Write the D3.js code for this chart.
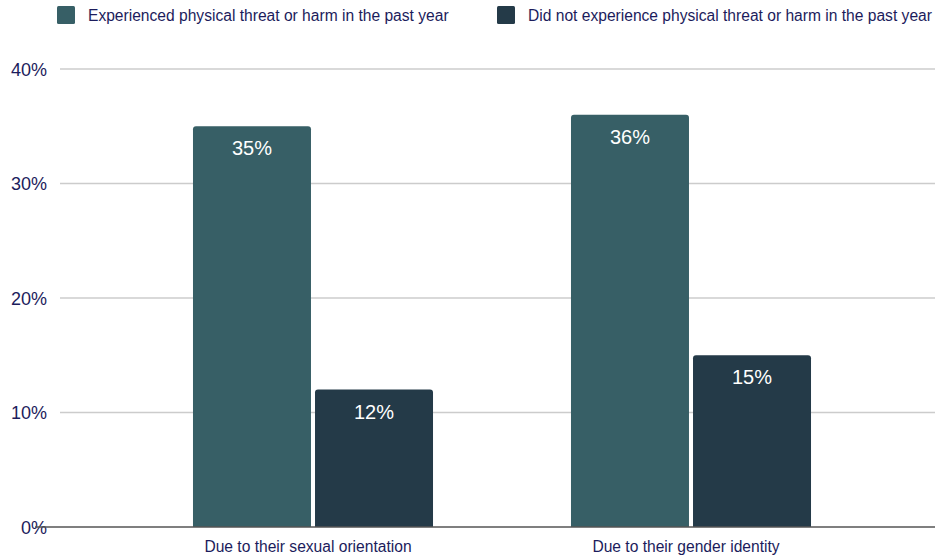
<!DOCTYPE html>
<html>
<head>
<meta charset="utf-8">
<script src="https://cdn.jsdelivr.net/npm/d3@7"></script>
<style>
  html, body { margin: 0; padding: 0; background: #fff; }
  svg { display: block; font-family: "Liberation Sans", Arial, sans-serif; }
</style>
</head>
<body>
<svg id="chart" width="935" height="556"></svg>
<script>
// Share of respondents reporting being threatened or harmed, by reason
const categories = ["Due to their sexual orientation", "Due to their gender identity"];
const seriesNames = [
  "Experienced physical threat or harm in the past year",
  "Did not experience physical threat or harm in the past year"
];
const experiencedValues = [35, 36];
const notExperiencedValues = [12, 15];
const yTicks = [0, 10, 20, 30, 40];
const seriesColors = ["#375f66", "#243a48"];

const textColor = "#1c1c5c";
const svg = d3.select("#chart");

const y = d3.scaleLinear().domain([0, 40]).range([527, 69]);
const x0 = d3.scaleBand().domain(categories).range([124, 880])
  .paddingInner(0.365).paddingOuter(0.1825);
const x1 = d3.scaleBand().domain(seriesNames).range([0, x0.bandwidth()])
  .paddingInner(0.033).paddingOuter(0);

const seriesValues = [experiencedValues, notExperiencedValues];

// Gridlines and y labels
const yAxis = d3.axisLeft(y).tickValues(yTicks).tickFormat(d => d + "%").tickSize(0).tickPadding(13);
const gy = svg.append("g").attr("transform", "translate(60,0)").call(yAxis);
gy.select(".domain").remove();
gy.selectAll("text").attr("fill", textColor).attr("font-size", 18).attr("dy", "0.35em");
svg.append("g").selectAll("line").data(yTicks.filter(t => t > 0)).join("line")
  .attr("x1", 60).attr("x2", 935)
  .attr("y1", d => y(d)).attr("y2", d => y(d))
  .attr("stroke", "#cccccc").attr("stroke-width", 1.5);

// Bars with slightly rounded top corners
function barPath(x, yTop, w, yBase, r) {
  return `M${x},${yBase}V${yTop + r}Q${x},${yTop} ${x + r},${yTop}H${x + w - r}Q${x + w},${yTop} ${x + w},${yTop + r}V${yBase}Z`;
}

const groups = svg.append("g").selectAll("g").data(categories).join("g")
  .attr("transform", d => `translate(${x0(d)},0)`);

groups.each(function(cat, ci) {
  const g = d3.select(this);
  seriesNames.forEach((s, si) => {
    const v = seriesValues[si][ci];
    g.append("path")
      .attr("d", barPath(x1(s), y(v), x1.bandwidth(), y(0), 3))
      .attr("fill", seriesColors[si]);
    g.append("text")
      .attr("x", x1(s) + x1.bandwidth() / 2)
      .attr("y", y(v) + 29)
      .attr("text-anchor", "middle")
      .attr("fill", "#ffffff")
      .attr("font-size", 20)
      .text(v + "%");
  });
});

// Baseline
svg.append("line").attr("x1", 35).attr("x2", 935)
  .attr("y1", y(0)).attr("y2", y(0))
  .attr("stroke", "#555555").attr("stroke-width", 1.5);

// Category labels
svg.append("g").selectAll("text").data(categories).join("text")
  .attr("x", d => x0(d) + x0.bandwidth() / 2 - 5)
  .attr("y", 552)
  .attr("text-anchor", "middle")
  .attr("fill", textColor)
  .attr("font-size", 15.6)
  .text(d => d);

// Legend
const legendX = [57, 497];
const legend = svg.append("g").selectAll("g").data(seriesNames).join("g")
  .attr("transform", (d, i) => `translate(${legendX[i]},6)`);
legend.append("rect").attr("width", 18).attr("height", 18).attr("rx", 1.5)
  .attr("fill", (d, i) => seriesColors[i]);
legend.append("text").attr("x", 31).attr("y", 15)
  .attr("fill", textColor).attr("font-size", 15.6)
  .text(d => d);
</script>
</body>
</html>
